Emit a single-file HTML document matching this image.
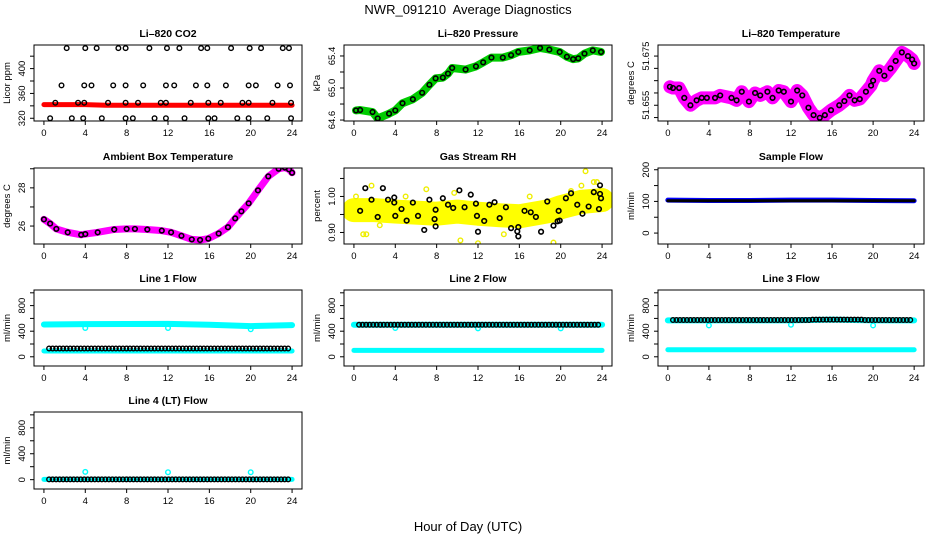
<!DOCTYPE html>
<html><head><meta charset="utf-8"><style>
html,body{margin:0;padding:0;background:#fff}
svg{display:block;font-family:"Liberation Sans",Arial,sans-serif}
</style></head><body>
<svg id="chart" width="936" height="540" viewBox="0 0 936 540">
<text x="468" y="14" text-anchor="middle" font-size="13" style="white-space:pre">NWR_091210  Average Diagnostics</text>
<text x="468" y="531" text-anchor="middle" font-size="13">Hour of Day (UTC)</text>
</svg>
<script>
// ---- data ----
const xTicks = [0,4,8,12,16,20,24];
// CO2
const co2RedHours = [0,2,4,6,8,10,12,14,16,18,20,22,24];
const co2RedVals = [342,342,342,341,341,341,341,341,341,341,341,341,341];
const co2BlackHours = [2.2,4.0,5.1,7.2,7.9,10.2,11.9,13.1,15.2,15.8,18.1,19.9,21.0,23.1,23.7,
 1.7,3.9,4.6,6.7,7.9,9.6,11.8,12.6,14.7,15.8,17.6,19.8,20.5,22.6,23.8,
 1.1,3.3,3.9,6.2,7.9,9.1,11.3,11.8,14.2,15.9,17.1,19.2,19.8,22.1,23.9,
 0.6,2.7,3.8,5.6,7.9,8.6,10.7,11.8,13.6,15.9,16.5,18.7,19.8,21.6,23.9];
const co2BlackVals = [433,433,433,433,433,433,433,433,433,433,433,433,433,433,433,
 373,373,373,373,373,373,373,373,373,373,373,373,373,373,373,
 345,345,345,345,345,345,345,345,345,345,345,345,345,345,345,
 320,320,320,320,320,320,320,320,320,320,320,320,320,320,320];
// Pressure
const presHours = [0.2,0.6,1.8,2.3,3.4,4,4.7,5.7,6.6,7.3,7.9,8.6,9.1,9.5,10.8,11.8,12.5,13.3,14.4,15.2,15.9,17,18,18.9,19.9,20.6,21.2,21.7,22.3,23.1,23.9];
const presVals = [64.72,64.725,64.70,64.62,64.68,64.72,64.81,64.86,64.94,65.04,65.12,65.13,65.18,65.25,65.23,65.27,65.32,65.38,65.38,65.41,65.45,65.47,65.50,65.48,65.45,65.39,65.36,65.37,65.43,65.47,65.45];
// Li-820 temperature
const tempHours = [0.2,0.5,1.1,1.6,2.2,2.8,3.3,3.8,4.6,5.1,6.2,6.7,7.2,7.9,8.5,9,9.7,10.2,10.8,11.3,12,12.6,13.1,13.7,14.2,14.8,15.3,15.9,16.7,17.2,17.7,18.2,18.7,19.3,19.8,20,20.6,21.1,21.7,22.2,22.8,23.4,23.8,24];
const tempVals = [51.6625,51.662,51.662,51.658,51.655,51.657,51.658,51.658,51.658,51.659,51.658,51.657,51.6605,51.6565,51.660,51.659,51.6605,51.658,51.661,51.6605,51.6565,51.661,51.659,51.654,51.651,51.6499,51.651,51.653,51.655,51.6567,51.659,51.657,51.6575,51.6605,51.663,51.665,51.669,51.667,51.670,51.673,51.6765,51.675,51.6736,51.672];
// Ambient box temperature
const ambHours = [0,0.6,1.2,2.3,3.6,4,5.2,6.8,8,8.8,10,11.4,12.3,13.3,14.3,15.1,15.9,16.9,17.8,18.5,19.1,19.8,20.7,21.7,22.7,23.3,23.7,24];
const ambVals = [26.35,26.13,25.85,25.67,25.54,25.58,25.67,25.82,25.85,25.85,25.82,25.76,25.67,25.49,25.30,25.27,25.34,25.61,25.94,26.40,26.77,27.19,27.87,28.6,29.0,29.06,28.97,28.79];
// Gas stream RH
const rhBandHours = [0,2,4,6,8,10,12,14,16,18,19,20,22,24];
const rhBandVals = [0.962,0.962,0.958,0.955,0.952,0.958,0.952,0.948,0.945,0.955,0.96,0.97,0.985,0.99];
const rhYellowHours = [0.2,0.9,1.2,1.7,2.5,5.0,7.0,9.7,10.3,12.0,14.5,17.0,19.3,21.0,22.0,22.4,23.2,23.5];
const rhYellowVals = [1.00,0.895,0.895,1.03,0.92,1.0,1.02,1.01,0.878,0.87,0.895,1.0,0.872,1.015,1.03,1.07,1.04,1.04];
const rhBlackHours = [0.6,1.1,1.7,2.3,2.8,3.3,3.9,3.9,4,4.6,5.1,5.7,6.2,6.8,7.3,7.8,7.9,7.9,8.6,9.1,9.6,10.2,10.7,11.3,11.8,11.9,12,12.6,13.1,13.6,14.1,14.7,15.2,15.8,15.9,15.9,16.5,17.1,17.6,18.1,18.7,19.3,19.7,19.9,19.8,20.5,21,21.6,22.1,22.7,23.2,23.7,23.8,23.8,23.9];
const rhBlackVals = [0.960,1.023,0.991,0.943,1.023,0.991,0.997,0.983,0.946,0.965,0.933,0.983,0.946,0.907,0.991,0.937,0.917,0.963,0.995,0.977,0.968,1.017,0.970,1.005,0.980,0.946,0.902,0.932,0.977,0.984,0.940,0.970,0.912,0.903,0.889,0.915,0.960,0.956,0.943,0.902,0.986,0.919,0.931,0.933,0.960,0.995,1.009,0.977,0.952,0.972,1.012,0.965,1.031,1.007,0.995];
// Sample flow
const sfHours = [0,4,8,12,16,20,24];
const sfBlueVals = [104,103,103,104,104,103,102];
const sfBlackVals = [102,102,102,102,102,102,102];
// Line flows
const outlierHours = [4,12,20];
const bandHours = [0,4,8,12,16,20,24];
const l1Upper = [505,510,512,515,500,480,495];
const l1Lower = [90,90,90,90,90,90,90];
const l1Black = [130,130,130,130,130,130,130,130,130,130,130,130,130,130,130,130,130,130,130,130,130,130,130,130];
const l1Out = [450,450,430];
const l2Upper = [500,500,500,500,500,500,500];
const l2Lower = [100,100,100,100,100,100,100];
const l2Black = [500,500,500,500,500,500,500,500,500,500,500,500,500,500,500,500,500,500,500,500,500,500,500,500];
const l2Out = [450,445,445];
const l3Upper = [570,570,570,570,580,570,570];
const l3Lower = [110,110,110,110,110,110,110];
const l3Black = [575,575,575,575,575,575,575,575,575,575,575,575,575,575,580,580,580,580,580,575,575,575,575,575];
const l3Out = [490,500,490];
const l4Upper = [5,5,5,5,5,5,5];
const l4Black = [5,5,5,5,5,5,5,5,5,5,5,5,5,5,5,5,5,5,5,5,5,5,5,5];
const l4Out = [120,115,115];

// ---- layout ----
const NS = 'http://www.w3.org/2000/svg';
const svg = document.getElementById('chart');
const cols = [[34,302],[344,612],[658,924]];
const rows = [[45,121],[168,244],[290,366],[412,489]];
function mk(tag, attrs, parent){const e=document.createElementNS(NS,tag);for(const k in attrs)e.setAttribute(k,attrs[k]);(parent||svg).appendChild(e);return e;}

function panel(cfg){
  const [x0,x1]=cols[cfg.c], [y0,y1]=rows[cfg.r];
  const g=mk('g',{});
  
  
  const xs=h=>x0+(h+0.96)/25.92*(x1-x0);
  const ys=v=>y1-(v-cfg.yd[0])/(cfg.yd[1]-cfg.yd[0])*(y1-y0);
  const clip='clip-'+cfg.id;
  const cp=mk('clipPath',{id:clip},g); mk('rect',{x:x0,y:y0,width:x1-x0,height:y1-y0},cp);
  const pg=mk('g',{'clip-path':'url(#'+clip+')'},g);
  cfg.draw(pg,xs,ys);
  const box=mk('rect',{x:x0,y:y0,width:x1-x0,height:y1-y0,fill:'none',stroke:'#000','stroke-width':1},g);
  
  
  const xa=mk('g',{},g);
  
  
  mk('line',{x1:xs(xTicks[0]),x2:xs(xTicks[xTicks.length-1]),y1:y1,y2:y1,stroke:'#000'},xa);
  xTicks.forEach(t=>{
    mk('line',{x1:xs(t),x2:xs(t),y1:y1,y2:y1+4,stroke:'#000'},xa);
    const tx=mk('text',{x:xs(t),y:y1+15,'text-anchor':'middle','font-size':9.5},xa); tx.textContent=t;
  });
  const ya=mk('g',{},g);
  
  
  mk('line',{x1:x0,x2:x0,y1:ys(cfg.yt[0]),y2:ys(cfg.yt[cfg.yt.length-1]),stroke:'#000'},ya);
  cfg.yt.forEach(t=>mk('line',{x1:x0-4,x2:x0,y1:ys(t),y2:ys(t),stroke:'#000'},ya));
  cfg.yl.forEach(t=>{
    const yy=ys(t), xx=x0-9;
    const tx=mk('text',{x:xx,y:yy,'text-anchor':'middle','font-size':9.5,transform:`rotate(-90 ${xx} ${yy})`},ya);
    tx.textContent=cfg.fmt?cfg.fmt(t):t;
  });
  const yc=(y0+y1)/2, xt=x0-24;
  const yt=mk('text',{x:xt,y:yc,'text-anchor':'middle','font-size':9.5,transform:`rotate(-90 ${xt} ${yc})`},g);
  yt.textContent=cfg.ylab;
  
  
  const tt=mk('text',{x:(x0+x1)/2,y:y0-8,'text-anchor':'middle','font-size':10.5,'font-weight':'bold'},g);
  tt.textContent=cfg.title;
  
  
}
function band(pg,xs,ys,H,V,color,w,name){
  const p=mk('polyline',{points:H.map((h,i)=>xs(h)+','+ys(V[i])).join(' '),fill:'none',stroke:color,'stroke-width':w,'stroke-linejoin':'round','stroke-linecap':'round'},pg);
  
  
}
function pts(pg,xs,ys,H,V,color,name,sw){
  const g=mk('g',{},pg);
  
  
  H.forEach((h,i)=>mk('circle',{cx:xs(h),cy:ys(V[i]),r:2.3,fill:'none',stroke:color,'stroke-width':sw||1.4},g));
}
function hourlyPts(pg,xs,ys,V,color,name){
  const g=mk('g',{},pg);
  
  
  for(let h=0.5; h<=23.95; h+=0.34){
    const v=V[Math.min(23,Math.floor(h))];
    mk('circle',{cx:xs(h),cy:ys(v),r:2.3,fill:'none',stroke:color,'stroke-width':1.4},g);
  }
}
const fix=n=>t=>t.toFixed(n);
const flowT=[0,200,400,600,800,1000], flowL=[0,400,800], flowD=[-144,1044];

panel({id:'co2',c:0,r:0,title:'Li\u2013820 CO2',ylab:'Licor ppm',yd:[315.6,438],yt:[320,340,360,380,400,420],yl:[320,360,400],
  draw:(pg,xs,ys)=>{band(pg,xs,ys,co2RedHours,co2RedVals,'#f00',5,'co2-red-series');pts(pg,xs,ys,co2BlackHours,co2BlackVals,'#000','co2-black-points');}});
panel({id:'pressure',c:1,r:0,title:'Li\u2013820 Pressure',ylab:'kPa',yd:[64.588,65.537],yt:[64.6,64.8,65.0,65.2,65.4],yl:[64.6,65.0,65.4],fmt:fix(1),
  draw:(pg,xs,ys)=>{band(pg,xs,ys,presHours,presVals,'#0c0',8,'pressure-green-series');pts(pg,xs,ys,presHours,presVals,'#000','pressure-black-points',1.6);}});
panel({id:'li820-temp',c:2,r:0,title:'Li\u2013820 Temperature',ylab:'degrees C',yd:[51.6486,51.6795],yt:[51.650,51.655,51.660,51.665,51.670,51.675],yl:[51.655,51.675],fmt:fix(3),
  draw:(pg,xs,ys)=>{band(pg,xs,ys,tempHours,tempVals,'#f0f',13,'temp-magenta-series');pts(pg,xs,ys,tempHours,tempVals,'#000','temp-black-points',1.6);}});
panel({id:'ambient',c:0,r:1,title:'Ambient Box Temperature',ylab:'degrees C',yd:[25.06,29.04],yt:[26,27,28,29],yl:[26,28],
  draw:(pg,xs,ys)=>{band(pg,xs,ys,ambHours,ambVals,'#f0f',7,'ambient-magenta-series');pts(pg,xs,ys,ambHours,ambVals,'#000','ambient-black-points',1.6);}});
panel({id:'rh',c:1,r:1,title:'Gas Stream RH',ylab:'percent',yd:[0.868,1.079],yt:[0.90,0.95,1.00,1.05],yl:[0.90,1.00],fmt:fix(2),
  draw:(pg,xs,ys)=>{band(pg,xs,ys,rhBandHours,rhBandVals,'#ff0',24,'rh-yellow-band');pts(pg,xs,ys,rhYellowHours,rhYellowVals,'#ee0','rh-yellow-points');pts(pg,xs,ys,rhBlackHours,rhBlackVals,'#000','rh-black-points',1.6);}});
panel({id:'sample-flow',c:2,r:1,title:'Sample Flow',ylab:'ml/min',yd:[-34.5,205.5],yt:[0,50,100,150,200],yl:[0,100,200],
  draw:(pg,xs,ys)=>{band(pg,xs,ys,sfHours,sfBlueVals,'#00f',5,'sample-blue-series');band(pg,xs,ys,sfHours,sfBlackVals,'#000',3,'sample-black-series');}});
panel({id:'line1',c:0,r:2,title:'Line 1 Flow',ylab:'ml/min',yd:flowD,yt:flowT,yl:flowL,
  draw:(pg,xs,ys)=>{band(pg,xs,ys,bandHours,l1Upper,'#0ff',6,'line1-cyan-upper');band(pg,xs,ys,bandHours,l1Lower,'#0ff',5,'line1-cyan-lower');pts(pg,xs,ys,outlierHours,l1Out,'#0ff','line1-outliers');hourlyPts(pg,xs,ys,l1Black,'#000','line1-black-points');}});
panel({id:'line2',c:1,r:2,title:'Line 2 Flow',ylab:'ml/min',yd:flowD,yt:flowT,yl:flowL,
  draw:(pg,xs,ys)=>{band(pg,xs,ys,bandHours,l2Upper,'#0ff',6,'line2-cyan-upper');band(pg,xs,ys,bandHours,l2Lower,'#0ff',5,'line2-cyan-lower');pts(pg,xs,ys,outlierHours,l2Out,'#0ff','line2-outliers');hourlyPts(pg,xs,ys,l2Black,'#000','line2-black-points');}});
panel({id:'line3',c:2,r:2,title:'Line 3 Flow',ylab:'ml/min',yd:flowD,yt:flowT,yl:flowL,
  draw:(pg,xs,ys)=>{band(pg,xs,ys,bandHours,l3Upper,'#0ff',6,'line3-cyan-upper');band(pg,xs,ys,bandHours,l3Lower,'#0ff',5,'line3-cyan-lower');pts(pg,xs,ys,outlierHours,l3Out,'#0ff','line3-outliers');hourlyPts(pg,xs,ys,l3Black,'#000','line3-black-points');}});
panel({id:'line4',c:0,r:3,title:'Line 4 (LT) Flow',ylab:'ml/min',yd:flowD,yt:flowT,yl:flowL,
  draw:(pg,xs,ys)=>{band(pg,xs,ys,bandHours,l4Upper,'#0ff',5,'line4-cyan-series');pts(pg,xs,ys,outlierHours,l4Out,'#0ff','line4-outliers');hourlyPts(pg,xs,ys,l4Black,'#000','line4-black-points');}});
</script>
</body></html>
